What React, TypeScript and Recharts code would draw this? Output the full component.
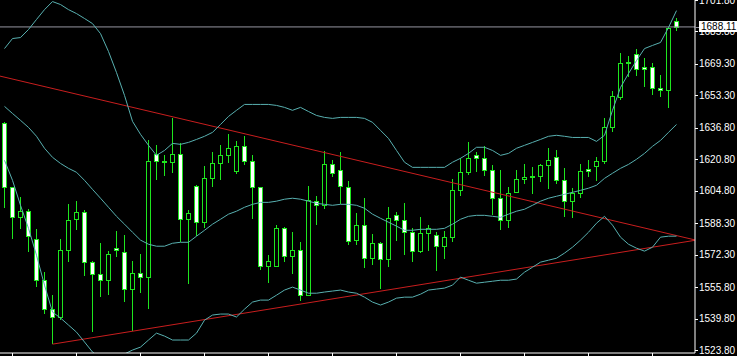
import React from 'react';
import { ComposedChart, Bar, Line, XAxis, YAxis, ReferenceLine } from 'recharts';

// daily candles (index 0 = leftmost visible bar)
const opens = [
  1639.1, 1606.6, 1591.3, 1594.4, 1580.2, 1559.3, 1544.6, 1540.6, 1574.6, 1590.3,
  1593.9, 1568.5, 1562.4, 1559.3, 1575.6, 1573.6, 1554.8, 1562.9, 1560.9, 1623.3,
  1619.8, 1619.3, 1623.3, 1590.3, 1607.1, 1588.8, 1611.1, 1618.7, 1622.8, 1614.7,
  1627.4, 1619.8, 1606.6, 1566.5, 1566.5, 1585.7, 1571.5, 1574.6, 1551.7, 1599.5,
  1597.4, 1618.2, 1615.2, 1606.6, 1579.7, 1587.3, 1570.5, 1578.1, 1570.0, 1592.3,
  1589.8, 1583.7, 1574.1, 1583.2, 1582.2, 1576.6, 1581.2, 1605.0, 1614.2, 1622.8,
  1621.3, 1615.2, 1601.0, 1589.8, 1604.0, 1610.6, 1611.6, 1612.1, 1617.7, 1621.8,
  1610.1, 1599.5, 1603.5, 1615.7, 1617.2, 1619.8, 1637.0, 1652.3, 1670.0, 1674.1,
  1667.5, 1667.5, 1656.8, 1655.8, 1691.3,
];
const highs = [
  1639.6, 1606.9, 1601.5, 1595.4, 1585.2, 1563.4, 1551.7, 1580.2, 1597.9, 1599.5,
  1594.9, 1569.0, 1578.1, 1574.1, 1584.2, 1582.2, 1569.0, 1572.5, 1630.4, 1627.9,
  1622.8, 1641.6, 1628.9, 1594.9, 1607.6, 1617.2, 1624.3, 1627.9, 1633.5, 1629.9,
  1632.5, 1622.8, 1606.9, 1572.0, 1587.3, 1586.3, 1583.7, 1578.6, 1607.1, 1602.0,
  1624.8, 1620.3, 1624.3, 1609.6, 1593.4, 1601.0, 1582.7, 1578.6, 1596.4, 1593.9,
  1598.4, 1585.7, 1591.3, 1587.3, 1583.7, 1584.2, 1610.6, 1621.3, 1629.4, 1624.3,
  1627.4, 1617.7, 1615.2, 1606.6, 1615.2, 1618.2, 1616.7, 1618.2, 1626.4, 1625.3,
  1616.2, 1606.1, 1618.2, 1620.3, 1621.8, 1641.6, 1655.3, 1675.1, 1673.1, 1677.1,
  1672.1, 1670.0, 1663.9, 1688.3, 1692.9,
];
const lows = [
  1595.9, 1580.2, 1585.2, 1573.6, 1555.8, 1542.1, 1526.8, 1539.0, 1568.5, 1584.7,
  1561.4, 1532.9, 1550.7, 1551.7, 1571.0, 1548.2, 1533.4, 1552.7, 1544.6, 1610.1,
  1612.1, 1613.7, 1578.6, 1557.3, 1581.7, 1585.7, 1606.6, 1610.1, 1618.7, 1613.2,
  1617.7, 1590.3, 1564.4, 1557.8, 1565.9, 1568.5, 1562.4, 1548.7, 1551.2, 1587.3,
  1595.4, 1611.6, 1597.9, 1577.1, 1577.1, 1565.4, 1567.0, 1554.8, 1565.9, 1579.1,
  1572.0, 1568.5, 1573.1, 1574.1, 1563.9, 1570.0, 1578.6, 1602.0, 1612.7, 1614.2,
  1612.1, 1592.3, 1584.7, 1585.7, 1603.5, 1608.1, 1603.0, 1609.1, 1605.5, 1608.1,
  1591.3, 1590.8, 1601.0, 1611.6, 1609.6, 1618.2, 1634.5, 1651.2, 1662.4, 1663.4,
  1657.8, 1653.3, 1652.3, 1646.7, 1685.8,
];
const closes = [
  1606.6, 1591.3, 1594.4, 1581.7, 1559.3, 1544.6, 1540.6, 1574.6, 1589.8, 1593.9,
  1568.5, 1562.4, 1559.3, 1572.5, 1574.6, 1554.8, 1562.9, 1560.9, 1619.8, 1619.8,
  1619.3, 1623.3, 1590.3, 1593.4, 1588.8, 1611.1, 1618.7, 1622.8, 1626.4, 1627.4,
  1619.8, 1606.6, 1566.5, 1569.0, 1585.7, 1571.5, 1574.6, 1551.7, 1600.0, 1597.4,
  1618.2, 1613.7, 1607.1, 1579.1, 1587.3, 1570.5, 1578.1, 1570.0, 1590.8, 1589.8,
  1583.7, 1574.1, 1583.2, 1585.7, 1576.6, 1581.2, 1605.0, 1614.2, 1621.3, 1621.3,
  1615.2, 1601.0, 1589.8, 1603.5, 1610.6, 1611.6, 1612.1, 1617.7, 1620.3, 1610.1,
  1599.5, 1603.5, 1614.7, 1614.7, 1619.8, 1637.0, 1652.8, 1670.0, 1670.5, 1666.5,
  1666.5, 1656.8, 1655.8, 1687.8, 1688.11,
];

// bollinger bands as drawn on the chart
const bbUpper = [
  1677.1, 1682.2, 1682.7, 1686.8, 1691.9, 1696.9, 1701.0, 1699.5, 1696.9, 1694.9,
  1692.4, 1689.8, 1684.7, 1675.6, 1664.9, 1653.3, 1640.1, 1633.5, 1627.9, 1622.8,
  1625.3, 1628.9, 1628.4, 1629.4, 1630.9, 1632.5, 1634.5, 1638.5, 1642.6, 1645.7,
  1648.7, 1648.7, 1648.7, 1648.7, 1648.2, 1647.2, 1645.7, 1647.2, 1645.1, 1643.1,
  1642.1, 1641.6, 1642.1, 1642.1, 1642.1, 1641.6, 1639.6, 1635.5, 1631.4, 1625.3,
  1619.3, 1616.7, 1616.7, 1616.7, 1616.7, 1616.7, 1619.3, 1621.3, 1623.8, 1626.9,
  1626.9, 1625.3, 1622.8, 1623.8, 1626.4, 1627.9, 1629.4, 1630.9, 1632.5, 1633.0,
  1632.5, 1631.9, 1631.9, 1631.9, 1629.9, 1633.0, 1645.7, 1657.3, 1664.4, 1671.0,
  1677.1, 1678.7, 1680.2, 1687.8, 1696.4,
];
const bbMiddle = [
  1647.7, 1644.1, 1640.6, 1637.0, 1632.5, 1626.4, 1621.8, 1618.7, 1616.2, 1614.2,
  1610.1, 1605.5, 1601.0, 1596.4, 1591.8, 1587.8, 1583.7, 1579.7, 1577.6, 1576.6,
  1576.6, 1578.1, 1578.6, 1578.6, 1581.7, 1584.7, 1587.8, 1590.3, 1592.9, 1594.4,
  1596.4, 1597.9, 1598.9, 1598.9, 1599.5, 1600.5, 1601.0, 1600.5, 1599.5, 1598.4,
  1597.9, 1597.4, 1597.9, 1597.9, 1597.4, 1595.9, 1592.9, 1590.8, 1588.8, 1586.8,
  1584.7, 1584.7, 1585.2, 1585.2, 1585.2, 1585.7, 1587.8, 1590.3, 1591.8, 1592.3,
  1592.3, 1591.8, 1591.3, 1592.9, 1594.4, 1595.4, 1597.4, 1599.5, 1601.0, 1602.0,
  1603.0, 1604.0, 1605.0, 1606.1, 1607.6, 1611.1, 1613.7, 1616.2, 1618.2, 1620.8,
  1623.8, 1627.4, 1630.4, 1634.5, 1638.5,
];
const bbLower = [
  1620.3, 1610.1, 1597.4, 1585.7, 1572.0, 1556.8, 1543.1, 1540.1, 1536.5, 1532.9,
  1527.9, 1522.8, 1519.7, 1518.7, 1519.7, 1521.8, 1523.8, 1525.3, 1528.9, 1532.4,
  1530.9, 1528.9, 1528.9, 1528.9, 1532.4, 1539.0, 1541.6, 1542.1, 1542.1, 1540.6,
  1544.6, 1548.2, 1549.2, 1549.2, 1551.7, 1554.3, 1555.8, 1554.3, 1552.7, 1552.7,
  1553.3, 1553.8, 1554.3, 1553.3, 1552.7, 1550.7, 1548.2, 1546.7, 1548.2, 1550.2,
  1550.7, 1550.7, 1552.2, 1554.3, 1554.8, 1555.3, 1556.8, 1560.9, 1559.3, 1557.8,
  1558.3, 1558.8, 1559.3, 1559.3, 1559.9, 1563.4, 1565.9, 1568.5, 1569.5, 1570.5,
  1573.1, 1576.1, 1579.7, 1583.7, 1588.3, 1591.8, 1587.3, 1581.2, 1577.6, 1575.6,
  1574.1, 1576.1, 1581.2, 1581.7, 1581.7,
];

const lastPrice = 1688.11;
// price scale labels; the current price tag goes last so it is drawn on top
const priceTicks = [
  1523.8, 1539.8, 1555.8, 1572.3, 1588.3, 1604.8, 1620.8, 1636.8, 1653.3, 1669.3, 1685.8, 1701.8,
  lastPrice,
];
const timeTicks = [1, 9, 17, 25, 33, 41, 49, 57, 65, 73, 81];

// hand-drawn trendlines (bar index, price)
const upperTrend = [
  { x: -0.5625, y: 1663.1 },
  { x: 86.31, y: 1579.8 },
];
const lowerTrend = [
  { x: 6, y: 1526.8 },
  { x: 86.31, y: 1579.6 },
];

const CANDLE = '#1ee61e';
const BAND = '#58b0b0';
const TREND = '#c81e1e';
const PRICE_LINE = '#9696a0';
const FONT = 'Liberation Sans, Arial, sans-serif';

const data = opens.map((o, i) => ({
  i,
  o,
  h: highs[i],
  l: lows[i],
  c: closes[i],
  range: [lows[i], highs[i]],
  upper: bbUpper[i],
  middle: bbMiddle[i],
  lower: bbLower[i],
}));

// eslint-disable-next-line @typescript-eslint/no-explicit-any
const Candle = (props: any) => {
  const { x, y, width, height, payload } = props;
  if (!payload) return null;
  const { o, h, l, c } = payload;
  const top = Math.min(y, y + height);
  const span = Math.abs(height);
  const k = h === l ? 0 : span / (h - l);
  const yOf = (v: number) => top + (h - v) * k;
  const cx = Math.floor(x + width / 2) + 0.5;
  const yo = Math.round(yOf(o));
  const yc = Math.round(yOf(c));
  const bodyTop = Math.min(yo, yc);
  const bodyBottom = Math.max(yo, yc);
  const bear = c < o;
  return (
    <g>
      <line x1={cx} x2={cx} y1={Math.round(top)} y2={Math.round(top + span)} stroke={CANDLE} strokeWidth={1} />
      {bodyBottom - bodyTop < 1 ? (
        <line x1={cx - 2.5} x2={cx + 2.5} y1={bodyTop + 0.5} y2={bodyTop + 0.5} stroke={CANDLE} strokeWidth={1} />
      ) : (
        <rect
          x={cx - 2}
          y={bodyTop + 0.5}
          width={4}
          height={bodyBottom - bodyTop}
          fill={bear ? '#ffffff' : '#000000'}
          stroke={CANDLE}
          strokeWidth={1}
        />
      )}
    </g>
  );
};

// eslint-disable-next-line @typescript-eslint/no-explicit-any
const PriceTick = (props: any) => {
  const { x, y, payload } = props;
  const v = payload.value as number;
  if (v === lastPrice) {
    return (
      <g>
        <line x1={x} x2={x + 4} y1={Math.round(y) + 0.5} y2={Math.round(y) + 0.5} stroke={PRICE_LINE} />
        <rect x={x + 4} y={Math.round(y) - 6} width={42} height={11} fill="#ffffff" />
        <text x={x + 6} y={y + 3.5} fill="#000000" fontSize={10} fontFamily={FONT}>
          {v.toFixed(2)}
        </text>
      </g>
    );
  }
  return (
    <g>
      <line x1={x} x2={x + 3} y1={Math.round(y) + 0.5} y2={Math.round(y) + 0.5} stroke="#ffffff" />
      <text x={x + 4} y={y + 3.5} fill="#ffffff" fontSize={10} fontFamily={FONT}>
        {v.toFixed(2)}
      </text>
    </g>
  );
};

export default function App(): React.JSX.Element {
  return (
    <div style={{ position: 'absolute', left: 0, top: 0, width: 737, height: 356, background: '#000' }}>
      <ComposedChart width={737} height={356} data={data} margin={{ top: 0, right: 0, bottom: 0, left: 0 }}>
        <XAxis
          type="number"
          dataKey="i"
          domain={[-0.5625, 86.3125]}
          allowDataOverflow
          ticks={timeTicks}
          interval={0}
          height={3}
          tickSize={3}
          stroke="#ffffff"
          tick={() => <g />}
        />
        <YAxis
          orientation="right"
          width={42}
          domain={[1522.3, 1701.8]}
          allowDataOverflow
          ticks={priceTicks}
          interval={0}
          tickSize={0}
          tickMargin={0}
          tickLine={false}
          stroke="#ffffff"
          tick={<PriceTick />}
        />
        <ReferenceLine y={lastPrice} stroke={PRICE_LINE} strokeWidth={1} />
        <ReferenceLine segment={upperTrend} stroke={TREND} strokeWidth={1} />
        <ReferenceLine segment={lowerTrend} stroke={TREND} strokeWidth={1} />
        <Line dataKey="upper" stroke={BAND} strokeWidth={1} dot={false} activeDot={false} isAnimationActive={false} />
        <Line dataKey="middle" stroke={BAND} strokeWidth={1} dot={false} activeDot={false} isAnimationActive={false} />
        <Line dataKey="lower" stroke={BAND} strokeWidth={1} dot={false} activeDot={false} isAnimationActive={false} />
        <Bar dataKey="range" barSize={6} shape={<Candle />} isAnimationActive={false} />
      </ComposedChart>
    </div>
  );
}
